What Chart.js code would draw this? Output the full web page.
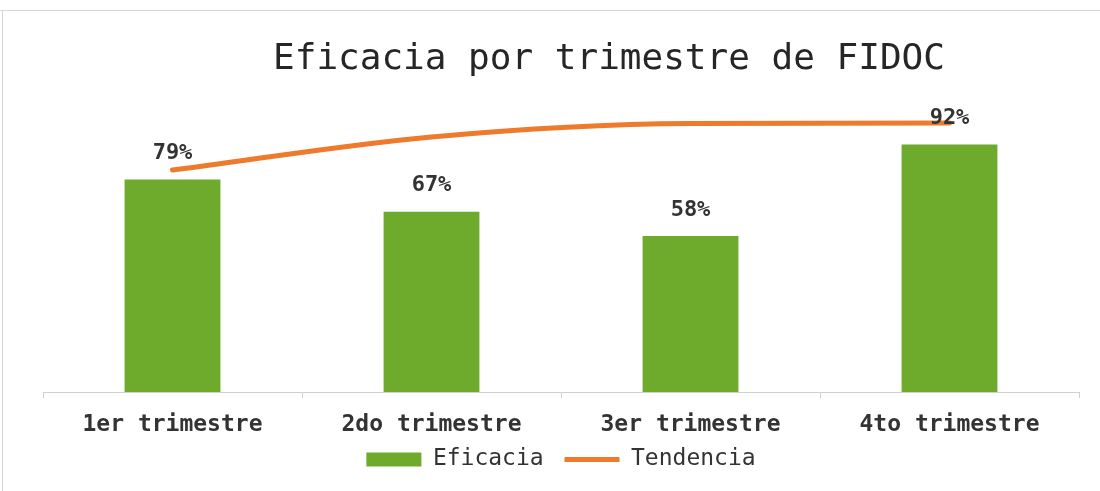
<!DOCTYPE html>
<html>
<head>
<meta charset="utf-8">
<script src="https://cdn.jsdelivr.net/npm/chart.js@4.4.0/dist/chart.umd.min.js"></script>
<style>
  html, body { margin: 0; padding: 0; background: #fff; }
  #wrap { width: 1100px; height: 491px; }
</style>
</head>
<body>
<div id="wrap"><canvas id="myChart" width="1100" height="491"></canvas></div>
<script>
const titulo = 'Eficacia por trimestre de FIDOC';
const trimestres = ['1er trimestre', '2do trimestre', '3er trimestre', '4to trimestre'];
const eficacia = [79, 67, 58, 92];
const tendencia = [82.5, 94.8, 99.8, 100];

const mono = "'DejaVu Sans Mono', 'Liberation Mono', monospace";

// titulo y marco a mano, para poder correrlo un poco a la derecha como en el original
const fondo = {
    id: 'fondo',
    beforeDraw(chart) {
        const c = chart.ctx;
        c.save();
        c.fillStyle = '#fff';
        c.fillRect(0, 0, chart.width, chart.height);
        c.strokeStyle = '#d6d6d6';
        c.lineWidth = 1;
        c.beginPath();
        c.moveTo(0, 10.5); c.lineTo(chart.width, 10.5);
        c.moveTo(2.5, 10); c.lineTo(2.5, chart.height);
        c.stroke();
        c.fillStyle = '#262626';
        c.font = '36px ' + mono;
        c.textAlign = 'center';
        c.textBaseline = 'middle';
        c.fillText(titulo, 609, 60);
        c.restore();
    }
};

// porcentajes encima de las barras (dataset 1 = Eficacia)
const etiquetas = {
    id: 'etiquetas',
    afterDatasetsDraw(chart) {
        const c = chart.ctx;
        const meta = chart.getDatasetMeta(1);
        c.save();
        c.fillStyle = '#333';
        c.font = 'bold 22px ' + mono;
        c.textAlign = 'center';
        c.textBaseline = 'middle';
        meta.data.forEach((bar, i) => {
            c.fillText(eficacia[i] + '%', bar.x, bar.y - 26);
        });
        c.restore();
    }
};

let ctx = document.getElementById('myChart');

new Chart(ctx, {
    type: 'bar',
    data: {
        labels: trimestres,
        datasets: [{
            type: 'line',
            label: 'Tendencia',
            data: tendencia,
            borderColor: '#ee7a2c',
            backgroundColor: '#ee7a2c',
            borderWidth: 5,
            borderCapStyle: 'round',
            pointRadius: 0,
            pointStyle: 'line',
            cubicInterpolationMode: 'monotone',
            fill: false,
            order: 0
        }, {
            label: 'Eficacia',
            data: eficacia,
            backgroundColor: '#6eab2d',
            borderWidth: 0,
            pointStyle: 'rect',
            categoryPercentage: 1,
            barPercentage: 0.37,
            order: 1
        }]
    },
    options: {
        responsive: false,
        animation: false,
        layout: { padding: { left: 43, right: 21, top: 96, bottom: 10 } },
        scales: {
            x: {
                afterFit: function (scale) {
                    scale.height = 49;
                },
                grid: {
                    display: true,
                    drawOnChartArea: false,
                    drawTicks: true,
                    tickLength: 6,
                    color: '#d0d0d0'
                },
                border: { display: true, color: '#d0d0d0', width: 1 },
                ticks: {
                    padding: 13,
                    color: '#333',
                    font: { family: mono, size: 23, weight: 'bold' }
                }
            },
            y: {
                display: false,
                min: 0,
                max: 110
            }
        },
        plugins: {
            title: { display: false },
            tooltip: { enabled: false },
            legend: {
                position: 'bottom',
                reverse: true,
                labels: {
                    usePointStyle: true,
                    pointStyleWidth: 55,
                    boxHeight: 14,
                    padding: 7,
                    color: '#333',
                    font: { family: mono, size: 23 },
                    // un espacio extra para separar un poco los dos items
                    generateLabels: function (chart) {
                        let items = Chart.defaults.plugins.legend.labels.generateLabels(chart);
                        items.forEach(it => {
                            if (it.text === 'Eficacia') it.text += ' ';
                        });
                        return items;
                    }
                }
            }
        }
    },
    plugins: [fondo, etiquetas]
});
</script>
</body>
</html>
